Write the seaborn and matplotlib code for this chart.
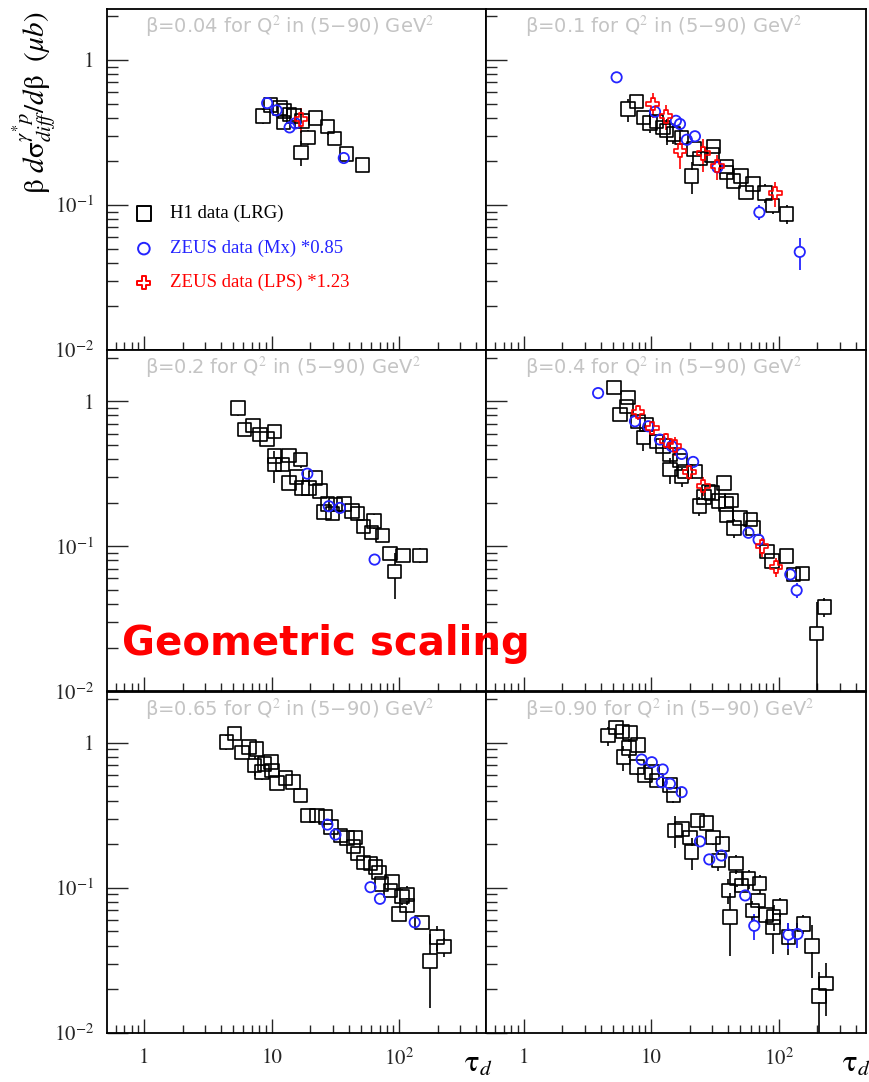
import numpy as np
import pandas as pd
import matplotlib
matplotlib.use("Agg")
import matplotlib.pyplot as plt
import seaborn as sns
from matplotlib.ticker import FixedLocator, NullFormatter, LogLocator

# ---------------- data (tau_d, value, relative error) ----------------
TITLES = ["\u03b2=0.04", "\u03b2=0.1", "\u03b2=0.2", "\u03b2=0.4", "\u03b2=0.65", "\u03b2=0.90"]

H1_1 = [(8.55,0.41,0.12),(9.8,0.49,0.08),(11.6,0.467,0.08),(12.6,0.447,0.08),(13.8,0.42,0.08),
        (14.9,0.41,0.08),(12.4,0.372,0.1),(17.3,0.38,0.08),(22,0.397,0.08),(27.4,0.347,0.12),
        (19.3,0.293,0.12),(31,0.288,0.1),(17,0.231,0.2),(38.6,0.225,0.08),(51.4,0.189,0.06)]
MX_1 = [(9.2,0.505,0.08),(10.9,0.45,0.08),(13.8,0.343,0.08),(15.3,0.366,0.08),(36.7,0.211,0.08)]
LPS_1 = [(17,0.39,0.2)]

H1_2 = [(6.6,0.459,0.18),(7.65,0.516,0.08),(8.66,0.402,0.1),(9.77,0.368,0.15),(11,0.376,0.1),
        (12.4,0.343,0.1),(13.2,0.326,0.2),(14.9,0.309,0.15),(17.3,0.293,0.12),(21.7,0.243,0.1),
        (24,0.21,0.12),(30.7,0.254,0.1),(29.8,0.221,0.1),(20.7,0.158,0.25),(39,0.185,0.06),
        (39,0.168,0.06),(44,0.147,0.06),(50.5,0.158,0.06),(55.4,0.122,0.1),(63,0.14,0.08),
        (78,0.121,0.15),(89.6,0.099,0.12),(115,0.087,0.15)]
MX_2 = [(5.35,0.76,0.04),(10.7,0.44,0.06),(15.6,0.381,0.06),(16.8,0.362,0.06),(19,0.282,0.06),
        (22,0.298,0.06),(33,0.182,0.08),(70.4,0.089,0.12),(146,0.0475,0.25)]
LPS_2 = [(10.26,0.497,0.2),(13.05,0.409,0.2),(16.8,0.237,0.25),(25.6,0.227,0.25),(33,0.185,0.2),(94,0.121,0.2)]

H1_3 = [(5.41,0.90,0.12),(6.1,0.638,0.08),(7.15,0.68,0.08),(8.06,0.589,0.08),(9.2,0.55,0.1),
        (10.5,0.62,0.08),(10.5,0.418,0.1),(10.5,0.366,0.25),(12.1,0.366,0.1),(13.6,0.422,0.1),
        (16.8,0.396,0.12),(13.6,0.274,0.1),(15.6,0.301,0.1),(17.3,0.253,0.12),(19.5,0.253,0.12),
        (22,0.296,0.1),(23.8,0.24,0.06),(25.6,0.172,0.1),(27.3,0.196,0.1),(31.6,0.194,0.06),
        (36.8,0.196,0.06),(30,0.168,0.1),(42.7,0.175,0.05),(46.9,0.168,0.05),(52.6,0.137,0.08),
        (63.3,0.149,0.12),(60.3,0.125,0.08),(73.7,0.119,0.06),(84.4,0.089,0.05),(107,0.0866,0.06),
        (145,0.0866,0.12),(92,0.067,0.35)]
MX_3 = [(19,0.317,0.05),(28,0.189,0.05),(34.2,0.184,0.05),(64,0.081,0.08)]
LPS_3 = []

H1_4 = [(5.1,1.25,0.06),(6.6,1.065,0.1),(5.68,0.81,0.06),(6.4,0.92,0.08),(7.9,0.728,0.1),
        (8.66,0.565,0.2),(9.2,0.69,0.08),(11,0.53,0.08),(12.4,0.49,0.08),(14,0.43,0.08),
        (14,0.338,0.2),(16.8,0.39,0.08),(17.3,0.304,0.15),(18.4,0.329,0.1),(22,0.329,0.08),
        (23.8,0.189,0.15),(26,0.218,0.1),(28,0.237,0.08),(29.8,0.233,0.08),(37.2,0.274,0.1),
        (33.6,0.205,0.06),(38.6,0.196,0.06),(42.7,0.207,0.06),(39,0.164,0.1),(44.6,0.134,0.15),
        (49.8,0.157,0.06),(59.9,0.153,0.06),(62.9,0.134,0.06),(80.6,0.092,0.08),(88.4,0.079,0.08),
        (115,0.0855,0.1),(130,0.064,0.1),(154,0.065,0.08),(198,0.025,0.64),(228,0.038,0.15)]
MX_4 = [(3.83,1.14,0.03),(7.45,0.728,0.05),(9.48,0.673,0.05),(11.7,0.545,0.05),(14.5,0.49,0.05),
        (17.3,0.434,0.05),(21.3,0.382,0.05),(57.8,0.124,0.05),(69.4,0.111,0.05),(123,0.064,0.1),
        (138,0.0497,0.12)]
LPS_4 = [(7.9,0.845,0.12),(10.2,0.655,0.12),(13.05,0.536,0.12),(15.35,0.49,0.15),(19.9,0.326,0.12),
         (25.6,0.26,0.15),(73.5,0.1,0.15),(95.3,0.072,0.15)]

H1_5 = [(4.4,1.01,0.12),(5.1,1.16,0.06),(5.85,0.86,0.06),(6.6,0.94,0.06),(7.6,0.91,0.06),
        (7.33,0.70,0.15),(8.4,0.627,0.12),(8.75,0.717,0.08),(9.85,0.735,0.08),(10,0.644,0.08),
        (11,0.527,0.06),(12.8,0.574,0.06),(14.7,0.535,0.06),(16.8,0.433,0.08),(19.2,0.315,0.04),
        (22.7,0.315,0.06),(26.4,0.307,0.06),(29,0.262,0.06),(34.7,0.23,0.06),(39,0.221,0.06),
        (45.4,0.223,0.08),(43.7,0.193,0.06),(46.9,0.172,0.06),(52.6,0.15,0.06),(59.4,0.147,0.06),
        (65,0.139,0.06),(69.2,0.128,0.06),(72.5,0.106,0.1),(88,0.11,0.1),(85,0.096,0.1),
        (105,0.087,0.12),(115,0.09,0.15),(115,0.0757,0.12),(99.4,0.066,0.1),(151,0.0578,0.1),
        (174,0.0313,0.53),(198,0.0456,0.2),(225,0.0394,0.15)]
MX_5 = [(27.3,0.273,0.05),(31.6,0.233,0.05),(59.4,0.101,0.05),(70.5,0.084,0.08),(132,0.0578,0.08)]
LPS_5 = []

H1_6 = [(4.6,1.12,0.15),(5.28,1.28,0.05),(5.97,1.2,0.06),(6.8,1.17,0.08),(6.04,0.796,0.2),
        (6.7,0.918,0.15),(7.9,0.97,0.1),(7.7,0.68,0.12),(8.9,0.602,0.1),(10.1,0.627,0.1),
        (11,0.55,0.1),(14.9,0.438,0.12),(14,0.51,0.1),(15.35,0.249,0.25),(17.4,0.255,0.12),
        (20.2,0.223,0.1),(20.7,0.176,0.25),(23.1,0.291,0.06),(27,0.28,0.08),(30.4,0.223,0.12),
        (33.6,0.154,0.15),(36.3,0.2,0.12),(40.3,0.096,0.2),(41.6,0.063,0.46),(46.2,0.147,0.15),
        (46.6,0.116,0.12),(51,0.104,0.1),(57.9,0.116,0.15),(62,0.07,0.15),(70.6,0.107,0.15),
        (69,0.082,0.12),(79,0.065,0.12),(91,0.063,0.2),(90,0.0535,0.35),(102,0.074,0.15),
        (119,0.0456,0.25),(156,0.0564,0.15),(182,0.0398,0.4),(206,0.018,0.45),(235,0.0218,0.4)]
MX_6 = [(8.4,0.767,0.05),(10.1,0.735,0.05),(12.3,0.655,0.05),(12.1,0.535,0.08),(14,0.522,0.05),
        (17.3,0.457,0.05),(24.1,0.209,0.05),(28.5,0.157,0.05),(35.5,0.167,0.05),(54.5,0.0886,0.08),
        (64.2,0.0547,0.2),(119,0.0475,0.2),(140,0.048,0.2)]
LPS_6 = []

PANELS = [(H1_1, MX_1, LPS_1), (H1_2, MX_2, LPS_2), (H1_3, MX_3, LPS_3),
          (H1_4, MX_4, LPS_4), (H1_5, MX_5, LPS_5), (H1_6, MX_6, LPS_6)]

LEGEND_LABELS = ["H1 data (LRG)", "ZEUS data (Mx) *0.85", "ZEUS data (LPS) *1.23"]
XTICK_LABELS = ["1", "10", r"$10^{2}$"]
YTICK_LABELS = [r"$10^{-2}$", r"$10^{-1}$", "1"]

# ---------------- style ----------------
sns.set_theme(style="ticks")
plt.rcParams["font.family"] = ["DejaVu Sans"]
plt.rcParams["mathtext.fontset"] = "stix"

BLACK, BLUE, RED = "#000000", "#2424ff", "#ff0000"
SERIF = "STIXGeneral"

W, H = 870, 1082
fig = plt.figure(figsize=(W / 100, H / 100), dpi=100)

col_x = [106.7, 486.2]
col_w = 379.5
row_top = [8.7, 350.0, 691.5]
row_h = 341.3

XLIM = (0.508, 480)
YLIM = (0.01, 2.26)


def to_df(rows):
    return pd.DataFrame(rows, columns=["tau", "val", "err"])


def draw_series(ax, rows, marker, color, size, lw, half_dec):
    if not rows:
        return
    df = to_df(rows)
    lo = np.clip(df.val * (1 - df.err), 1e-4, None)
    hi = df.val * (1 + df.err)
    f = 10 ** half_dec
    # error bars outside the (open) marker, like ROOT
    m_lo = df.val / f
    m_hi = df.val * f
    sel = lo < m_lo
    ax.vlines(df.tau[sel], lo[sel], m_lo[sel], color=color, lw=lw, zorder=3)
    sel = hi > m_hi
    ax.vlines(df.tau[sel], m_hi[sel], hi[sel], color=color, lw=lw, zorder=3)
    sns.scatterplot(data=df, x="tau", y="val", ax=ax, marker=marker, s=size,
                    facecolor="none", edgecolor=color, linewidth=lw, zorder=4,
                    legend=False)


axes = []
for i in range(6):
    r, c = divmod(i, 2)
    left = col_x[c] / W
    bottom = 1 - (row_top[r] + row_h) / H
    ax = fig.add_axes([left, bottom, col_w / W, row_h / H])
    axes.append(ax)
    ax.set_xscale("log")
    ax.set_yscale("log")
    ax.set_xlim(*XLIM)
    ax.set_ylim(*YLIM)

    h1, mx, lps = PANELS[i]
    draw_series(ax, h1, "s", BLACK, 95, 1.2, 0.046)
    draw_series(ax, mx, "o", BLUE, 55, 1.3, 0.034)
    draw_series(ax, lps, "P", RED, 80, 1.2, 0.036)

    ax.set_xlabel("")
    ax.set_ylabel("")
    for s in ax.spines.values():
        s.set_linewidth(1.3)
        s.set_color("black")

    ax.xaxis.set_major_locator(FixedLocator([1, 10, 100]))
    ax.xaxis.set_minor_locator(LogLocator(base=10, subs=np.arange(2, 10), numticks=20))
    ax.yaxis.set_major_locator(FixedLocator([0.01, 0.1, 1]))
    ax.yaxis.set_minor_locator(LogLocator(base=10, subs=np.arange(2, 10), numticks=20))
    ax.tick_params(axis="x", which="major", direction="in", length=10, width=1.0,
                   top=False, bottom=True, pad=11)
    ax.tick_params(axis="x", which="minor", direction="in", length=6, width=1.0,
                   top=False, bottom=True)
    ax.tick_params(axis="y", which="major", direction="in", length=15, width=1.0,
                   left=True, right=False, pad=9)
    ax.tick_params(axis="y", which="minor", direction="in", length=8, width=1.0,
                   left=True, right=False)
    ax.yaxis.set_minor_formatter(NullFormatter())
    ax.xaxis.set_minor_formatter(NullFormatter())

    if c == 0:
        ax.set_yticklabels(YTICK_LABELS, fontsize=15, family=SERIF)
    else:
        ax.set_yticklabels([])
    if r == 2:
        ax.set_xticklabels(XTICK_LABELS, fontsize=15, family=SERIF)
    else:
        ax.set_xticklabels([])

    ax.text(0.101, 0.947, TITLES[i] + " for Q$^2$ in (5\u221290) GeV$^2$",
            transform=ax.transAxes, ha="left", va="center",
            color="#c4c4c4", fontsize=14, family="DejaVu Sans")

# legend in first panel (drawn in axes coordinates)
ax0 = axes[0]
leg_y = [0.40, 0.297, 0.197]
leg_style = [("s", BLACK, 110), ("o", BLUE, 70), ("P", RED, 90)]
for (mk, col, sz), yy, lab in zip(leg_style, leg_y, LEGEND_LABELS):
    ax0.scatter([0.098], [yy], transform=ax0.transAxes, marker=mk, s=sz,
                facecolor="none", edgecolor=col, linewidth=1.4, zorder=5)
    ax0.text(0.167, yy, lab, transform=ax0.transAxes, ha="left", va="center",
             color=col, fontsize=13.5, family="Liberation Serif")

# y-axis title
fig.text(35 / W, 1 - 103 / H,
         r"$\mathrm{\beta}\ d\mathrm{\sigma}^{\gamma^{*}p}_{diff}/d\mathrm{\beta}\ \ (\mu b)$",
         rotation=90, ha="center", va="center", fontsize=21, color="black")

# tau_d labels
for xp in (478, 856):
    fig.text(xp / W, 1 - 1064 / H, r"$\mathrm{\tau}_{d}$", ha="center", va="center",
             fontsize=22, color="black")

# annotation
fig.text(122 / W, 1 - 655 / H, "Geometric scaling", ha="left", va="baseline",
         color="#ff0000", fontsize=29, fontweight="bold", family="DejaVu Sans")

fig.savefig("out.png", dpi=100)
